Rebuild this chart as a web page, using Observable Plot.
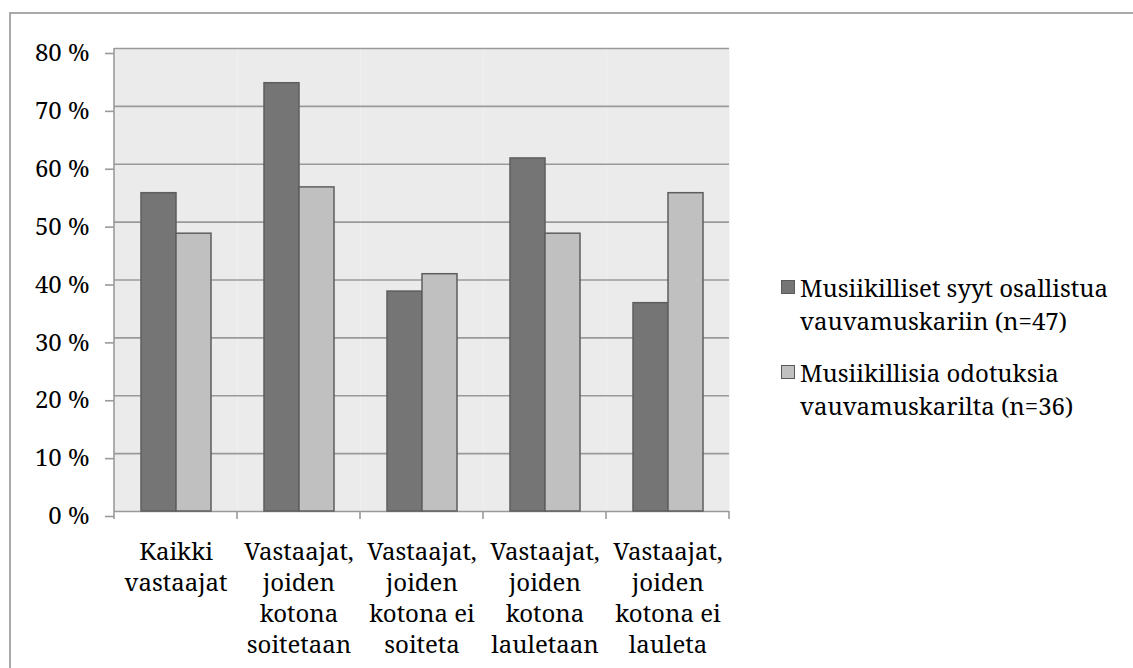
<!DOCTYPE html>
<html>
<head>
<meta charset="utf-8">
<script src="https://cdn.jsdelivr.net/npm/d3@7"></script>
<script src="https://cdn.jsdelivr.net/npm/@observablehq/plot@0.6"></script>
<style>
  html, body { margin: 0; padding: 0; background: #fff; }
  #wrap { position: relative; width: 1133px; height: 668px; overflow: hidden; font-family: "Noto Serif", "Liberation Serif", serif; }
  #border { position: absolute; left: 9px; top: 12px; width: 1200px; height: 800px; border: 2px solid #a9a9a9; box-sizing: border-box; }
  #chart { position: absolute; left: 0; top: 0; }
  #legend { position: absolute; left: 781px; top: 271px; font-size: 24px; line-height: 33px; color: #000; }
  .item { display: flex; align-items: flex-start; margin-bottom: 19px; }
  .sw { width: 12px; height: 12px; border: 1.5px solid #5a5a5a; margin-top: 9px; margin-right: 5px; flex: none; }
</style>
</head>
<body>
<div id="wrap">
  <div id="border"></div>
  <div id="chart"></div>
  <div id="legend"></div>
</div>
<script>
const categories = ["Kaikki vastaajat", "Vastaajat, joiden kotona soitetaan", "Vastaajat, joiden kotona ei soiteta", "Vastaajat, joiden kotona lauletaan", "Vastaajat, joiden kotona ei lauleta"];
const categoryLabels = ["Kaikki\nvastaajat", "Vastaajat,\njoiden\nkotona\nsoitetaan", "Vastaajat,\njoiden\nkotona ei\nsoiteta", "Vastaajat,\njoiden\nkotona\nlauletaan", "Vastaajat,\njoiden\nkotona ei\nlauleta"];
const seriesNames = ["Musiikilliset syyt osallistua vauvamuskariin (n=47)", "Musiikillisia odotuksia vauvamuskarilta (n=36)"];
const seriesLegend = ["Musiikilliset syyt osallistua<br>vauvamuskariin (n=47)", "Musiikillisia odotuksia<br>vauvamuskarilta (n=36)"];
const reasons = [55, 74, 38, 61, 36];
const expectations = [48, 56, 41, 48, 55];
const seriesColors = ["#757575", "#c0c0c0"];
const yTicks = [0, 10, 20, 30, 40, 50, 60, 70, 80];

const data = [];
categories.forEach((c, i) => {
  data.push({category: c, series: seriesNames[0], value: reasons[i]});
  data.push({category: c, series: seriesNames[1], value: expectations[i]});
});
const labelOf = new Map(categories.map((c, i) => [c, categoryLabels[i]]));

const plot = Plot.plot({
  width: 1133,
  height: 668,
  marginLeft: 112,
  marginRight: 402,
  marginTop: 48,
  marginBottom: 157,
  style: {fontFamily: "'Noto Serif', 'Liberation Serif', serif", fontSize: "24px", color: "#000", background: "transparent", overflow: "visible"},
  fx: {domain: categories, paddingInner: 0, paddingOuter: 0, label: null},
  x: {domain: seriesNames, paddingInner: 0, paddingOuter: 0.74, axis: null},
  y: {domain: [0, 80], label: null},
  color: {domain: seriesNames, range: seriesColors},
  marks: [
    Plot.frame({fill: "#ebebeb", stroke: null}),
    Plot.ruleY(yTicks, {stroke: "#9a9a9a", strokeWidth: 1.6}),
    Plot.axisY(yTicks, {tickSize: 9, tickPadding: 16, stroke: "#9a9a9a", strokeWidth: 1.6, tickFormat: d => d + "\u00a0%", label: null, dy: 5, fill: "#000"}),
    Plot.axisFx({anchor: "bottom", tickSize: 0, tickPadding: 27, tickFormat: d => labelOf.get(d), lineHeight: 1.29, label: null, fill: "#000"}),
    Plot.barY(data, {fx: "category", x: "series", y: "value", fill: "series", stroke: "#5e5e5e", strokeWidth: 1.5})
  ]
});
document.getElementById("chart").appendChild(plot);

// category boundary ticks and left axis line, from the fx scale
const fx = plot.scale("fx");
const yS = plot.scale("y");
const svg = d3.select(plot);
const y0 = yS.apply(0), yTop = yS.apply(80);
const bounds = categories.map(c => fx.apply(c)).concat([fx.apply(categories[categories.length - 1]) + fx.bandwidth]);
svg.append("g")
  .attr("stroke", "#9a9a9a").attr("stroke-width", 1.6)
  .selectAll("line").data(bounds).join("line")
  .attr("x1", d => d).attr("x2", d => d)
  .attr("y1", y0).attr("y2", y0 + 8);
svg.append("line")
  .attr("stroke", "#9a9a9a").attr("stroke-width", 1.6)
  .attr("x1", bounds[0]).attr("x2", bounds[0]).attr("y1", yTop).attr("y2", y0);

// legend
const legend = document.getElementById("legend");
seriesNames.forEach((s, i) => {
  const item = document.createElement("div");
  item.className = "item";
  item.innerHTML = `<div class="sw" style="background:${seriesColors[i]}"></div><div>${seriesLegend[i]}</div>`;
  legend.appendChild(item);
});
</script>
</body>
</html>
